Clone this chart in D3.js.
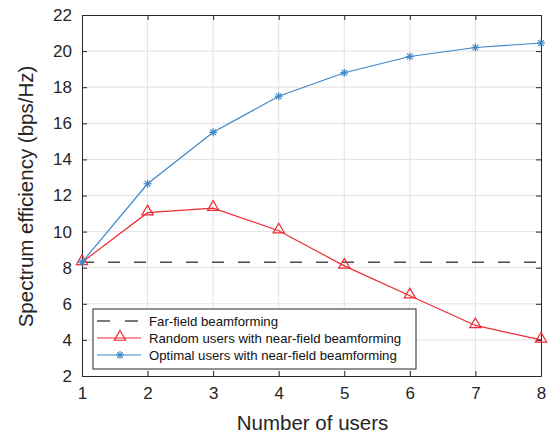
<!DOCTYPE html>
<html>
<head>
<meta charset="utf-8">
<script src="https://cdn.jsdelivr.net/npm/d3@7"></script>
<style>
  body { margin: 0; background: #fff; }
  text { font-family: "Liberation Sans", Arial, sans-serif; }
</style>
</head>
<body>
<div class="chart"></div>
<script>
const users = [1, 2, 3, 4, 5, 6, 7, 8];
const farField = 8.3;
const randomNear = [8.3, 11.05, 11.3, 10.05, 8.1, 6.45, 4.8, 4.0];
const optimalNear = [8.3, 12.65, 15.5, 17.5, 18.8, 19.7, 20.2, 20.45];
const yTicks = [2, 4, 6, 8, 10, 12, 14, 16, 18, 20, 22];
const legendLabels = [
  "Far-field beamforming",
  "Random users with near-field beamforming",
  "Optimal users with near-field beamforming"
];

const margin = { top: 15, right: 16, bottom: 58, left: 82 },
  width = 557 - margin.left - margin.right,
  height = 434 - margin.top - margin.bottom;

const blue = "#3f86c8", red = "#ee2a35", dash = "#4d4d4d";

let svg = d3.select(".chart").append("svg")
  .attr("width", 557).attr("height", 434)
  .append("g")
  .attr("transform", "translate(" + margin.left + "," + margin.top + ")");

let x = d3.scaleLinear().domain([1, 8]).range([0, width]);
let y = d3.scaleLinear().domain([2, 22]).range([height, 0]);

// grid
svg.append("g").selectAll("line").data(users.slice(1, -1)).enter().append("line")
  .attr("x1", d => x(d)).attr("x2", d => x(d))
  .attr("y1", 0).attr("y2", height)
  .attr("stroke", "#e3e3e3").attr("stroke-width", 1);
svg.append("g").selectAll("line").data(yTicks.slice(1, -1)).enter().append("line")
  .attr("y1", d => y(d)).attr("y2", d => y(d))
  .attr("x1", 0).attr("x2", width)
  .attr("stroke", "#e3e3e3").attr("stroke-width", 1);

// axes, ticks inward on all four sides
function styleAxis(g) {
  g.selectAll("path").attr("stroke", "#262626").attr("stroke-width", 1);
  g.selectAll("line").attr("stroke", "#262626");
  g.selectAll("text").attr("fill", "#262626").style("font-size", "17px");
}
svg.append("g").attr("transform", "translate(0," + height + ")")
  .call(d3.axisBottom(x).tickValues(users).tickFormat(d3.format("d"))
    .tickSizeInner(-5).tickSizeOuter(0).tickPadding(11))
  .call(styleAxis);
svg.append("g")
  .call(d3.axisLeft(y).tickValues(yTicks).tickSizeInner(-5).tickSizeOuter(0).tickPadding(10))
  .call(styleAxis);
svg.append("g")
  .call(d3.axisTop(x).tickValues(users).tickSizeInner(-5).tickSizeOuter(0).tickFormat(""))
  .call(styleAxis);
svg.append("g").attr("transform", "translate(" + width + ",0)")
  .call(d3.axisRight(y).tickValues(yTicks).tickSizeInner(-5).tickSizeOuter(0).tickFormat(""))
  .call(styleAxis);

// far-field dashed line
svg.append("line")
  .attr("x1", x(1)).attr("x2", x(8))
  .attr("y1", y(farField)).attr("y2", y(farField))
  .attr("stroke", dash).attr("stroke-width", 1.6)
  .attr("stroke-dasharray", "12,14");

let line = d3.line().x((d, i) => x(users[i])).y(d => y(d));

// random users
svg.append("path").datum(randomNear)
  .attr("d", line).attr("fill", "none")
  .attr("stroke", red).attr("stroke-width", 1.2);
const tri = d3.symbol().type(d3.symbolTriangle).size(55);
svg.selectAll(".tri").data(randomNear).enter().append("path")
  .attr("class", "tri")
  .attr("d", tri)
  .attr("transform", (d, i) => "translate(" + x(users[i]) + "," + (y(d) - 1) + ")")
  .attr("fill", "none").attr("stroke", red).attr("stroke-width", 1.2);

// optimal users
svg.append("path").datum(optimalNear)
  .attr("d", line).attr("fill", "none")
  .attr("stroke", blue).attr("stroke-width", 1.2);
function star(g, r) {
  [0, 45, 90, 135].forEach(a => {
    const rad = a * Math.PI / 180;
    g.append("line")
      .attr("x1", -r * Math.cos(rad)).attr("y1", -r * Math.sin(rad))
      .attr("x2", r * Math.cos(rad)).attr("y2", r * Math.sin(rad))
      .attr("stroke", blue).attr("stroke-width", 1.2);
  });
}
svg.selectAll(".star").data(optimalNear).enter().append("g")
  .attr("class", "star")
  .attr("transform", (d, i) => "translate(" + x(users[i]) + "," + y(d) + ")")
  .each(function () { star(d3.select(this), 4); });

// axis labels
svg.append("text")
  .attr("x", width / 2 + 1).attr("y", height + 54)
  .attr("text-anchor", "middle").attr("fill", "#262626")
  .style("font-size", "20.5px")
  .text("Number of users");
svg.append("text")
  .attr("transform", "translate(" + (-49) + "," + (height / 2 + 1) + ") rotate(-90)")
  .attr("text-anchor", "middle").attr("fill", "#262626")
  .style("font-size", "20.5px")
  .text("Spectrum efficiency (bps/Hz)");

// legend
let legend = svg.append("g").attr("transform", "translate(11," + (309 - margin.top) + ")");
legend.append("rect")
  .attr("width", 323).attr("height", 60)
  .attr("fill", "#fff").attr("stroke", "#262626").attr("stroke-width", 1);
legendLabels.forEach((lab, i) => {
  let ly = 12 + i * 17;
  let s = legend.append("line")
    .attr("x1", 4).attr("x2", 48).attr("y1", ly).attr("y2", ly)
    .attr("stroke", i === 0 ? dash : (i === 1 ? red : blue))
    .attr("stroke-width", i === 0 ? 1.6 : 1.2);
  if (i === 0) s.attr("stroke-dasharray", "13,15");
  if (i === 1) {
    legend.append("path").attr("d", tri)
      .attr("transform", "translate(27," + (ly - 1) + ")")
      .attr("fill", "none").attr("stroke", red).attr("stroke-width", 1.2);
  }
  if (i === 2) {
    star(legend.append("g").attr("transform", "translate(27," + ly + ")"), 4);
  }
  legend.append("text")
    .attr("x", 56).attr("y", ly + 4.5)
    .attr("fill", "#111").style("font-size", "13.2px")
    .text(lab);
});
</script>
</body>
</html>
